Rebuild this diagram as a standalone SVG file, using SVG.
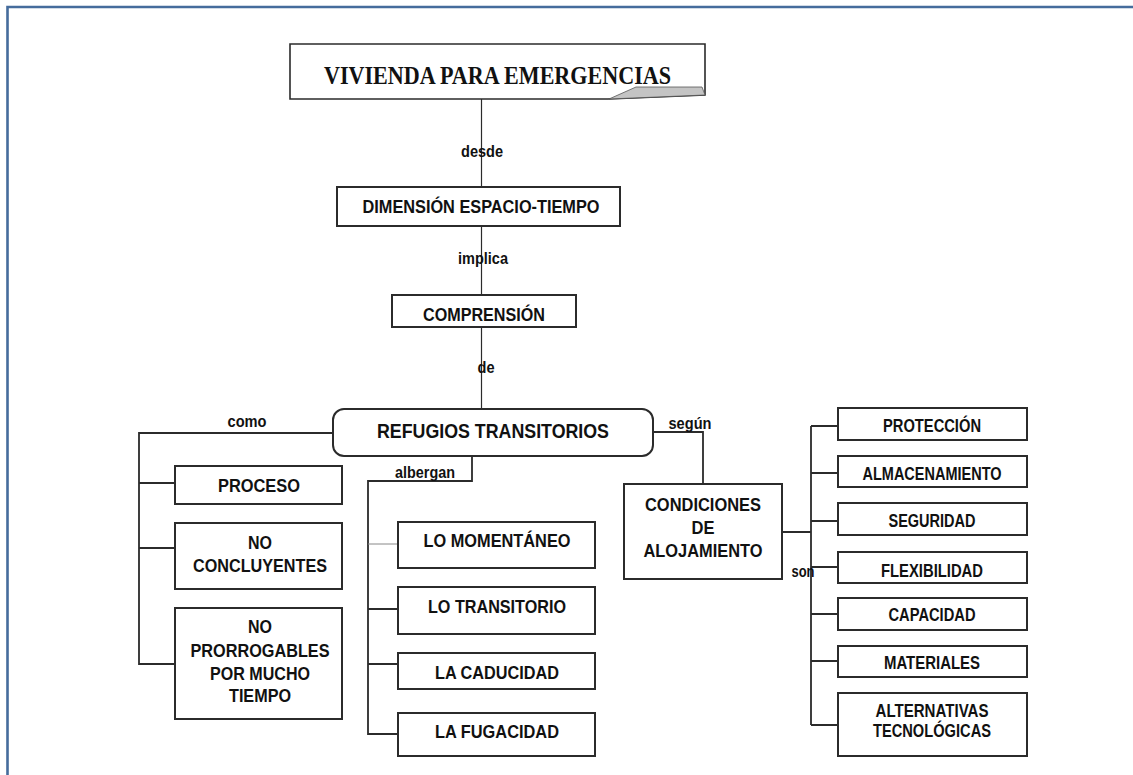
<svg xmlns="http://www.w3.org/2000/svg" width="1133" height="775" viewBox="0 0 1133 775">
<style>
.box{fill:#fff;stroke:#2b2b2b;stroke-width:2}
.t{font-family:"Liberation Sans",Arial,sans-serif;font-weight:bold;fill:#111;text-anchor:middle}
.bl{font-size:19px}
.br{font-size:18px}
.lb{font-family:"Liberation Sans",Arial,sans-serif;font-weight:bold;fill:#111;text-anchor:middle;font-size:16px}
.ln{fill:none;stroke:#2b2b2b;stroke-width:1.8}
.thin{fill:none;stroke:#2b2b2b;stroke-width:1.2}
</style>
<rect width="1133" height="775" fill="#fff"/>
<g id="frame">
<path d="M7.5,775 V7 H1133" fill="none" stroke="#456c9c" stroke-width="2.6"/>
</g>
<g id="connectors">
<path class="thin" d="M481.5,99 V187"/>
<path class="thin" d="M481.5,226 V295"/>
<path class="thin" d="M481.5,327 V409"/>
<path class="ln" d="M333,433 H139 V664 H175"/>
<path class="ln" d="M139,483 H175 M139,548 H175"/>
<path class="ln" d="M472,456 V481 H368 V734 H398"/>
<path d="M368,544 H398" fill="none" stroke="#888" stroke-width="1"/>
<path class="ln" d="M368,609 H398 M368,664 H398"/>
<path class="ln" d="M653,432 H703 V484"/>
<path class="ln" d="M782,532 H811 M811,426 V725"/>
<path class="ln" d="M811,426 H838 M811,473 H838 M811,521 H838 M811,567 H838 M811,614 H838 M811,661 H838 M811,725 H838"/>
<text class="lb" x="482" y="157" textLength="42" lengthAdjust="spacingAndGlyphs">desde</text>
<text class="lb" x="483" y="264" textLength="50" lengthAdjust="spacingAndGlyphs">implica</text>
<text class="lb" x="486" y="373" textLength="17" lengthAdjust="spacingAndGlyphs">de</text>
<text class="lb" x="247" y="427" textLength="39" lengthAdjust="spacingAndGlyphs">como</text>
<text class="lb" x="425" y="478" textLength="60" lengthAdjust="spacingAndGlyphs">albergan</text>
<text class="lb" x="690" y="429" textLength="43" lengthAdjust="spacingAndGlyphs">según</text>
<text class="lb" x="803" y="577" textLength="23" lengthAdjust="spacingAndGlyphs">son</text>
</g>
<g id="n-vivienda">
<path d="M290,44 H705 V95 L608,99 H290 Z" fill="#fff" stroke="#2b2b2b" stroke-width="1.6"/>
<polygon points="609,99 636,87 702,87 705,95" fill="#c4c4c4" stroke="#555" stroke-width="0.8"/>
<text x="497.5" y="84" font-family="'Liberation Serif','Times New Roman',serif" font-weight="bold" font-size="25" fill="#111" text-anchor="middle" textLength="347" lengthAdjust="spacingAndGlyphs">VIVIENDA PARA EMERGENCIAS</text>
</g>
<g id="n-dimension">
<rect class="box" x="337" y="187" width="283" height="39"/>
<text class="t bl" x="481" y="213" textLength="237" lengthAdjust="spacingAndGlyphs">DIMENSIÓN ESPACIO-TIEMPO</text>
</g>
<g id="n-comprension">
<rect class="box" x="392" y="295" width="184" height="32"/>
<text class="t bl" x="484" y="321" textLength="122" lengthAdjust="spacingAndGlyphs">COMPRENSIÓN</text>
</g>
<g id="n-refugios">
<rect class="box" x="333" y="409" width="320" height="47" rx="11"/>
<text class="t" font-size="21" x="493" y="438" textLength="232" lengthAdjust="spacingAndGlyphs">REFUGIOS TRANSITORIOS</text>
</g>
<g id="n-proceso">
<rect class="box" x="175" y="466" width="167" height="38"/>
<text class="t bl" x="259" y="492" textLength="82" lengthAdjust="spacingAndGlyphs">PROCESO</text>
</g>
<g id="n-noconcluyentes">
<rect class="box" x="175" y="523" width="167" height="66"/>
<text class="t bl" x="260" y="549" textLength="24" lengthAdjust="spacingAndGlyphs">NO</text>
<text class="t bl" x="260" y="572" textLength="134" lengthAdjust="spacingAndGlyphs">CONCLUYENTES</text>
</g>
<g id="n-noprorrogables">
<rect class="box" x="175" y="608" width="167" height="111"/>
<text class="t bl" x="260" y="633" textLength="24" lengthAdjust="spacingAndGlyphs">NO</text>
<text class="t bl" x="260" y="657" textLength="139" lengthAdjust="spacingAndGlyphs">PRORROGABLES</text>
<text class="t bl" x="260" y="680" textLength="100" lengthAdjust="spacingAndGlyphs">POR MUCHO</text>
<text class="t bl" x="260" y="702" textLength="62" lengthAdjust="spacingAndGlyphs">TIEMPO</text>
</g>
<g id="n-momentaneo">
<rect class="box" x="398" y="522" width="197" height="46"/>
<text class="t bl" x="497" y="547" textLength="147" lengthAdjust="spacingAndGlyphs">LO MOMENTÁNEO</text>
</g>
<g id="n-transitorio">
<rect class="box" x="398" y="587" width="197" height="47"/>
<text class="t bl" x="497" y="613" textLength="138" lengthAdjust="spacingAndGlyphs">LO TRANSITORIO</text>
</g>
<g id="n-caducidad">
<rect class="box" x="398" y="653" width="197" height="36"/>
<text class="t bl" x="497" y="679" textLength="124" lengthAdjust="spacingAndGlyphs">LA CADUCIDAD</text>
</g>
<g id="n-fugacidad">
<rect class="box" x="398" y="713" width="197" height="43"/>
<text class="t bl" x="497" y="738" textLength="124" lengthAdjust="spacingAndGlyphs">LA FUGACIDAD</text>
</g>
<g id="n-condiciones">
<rect class="box" x="624" y="484" width="158" height="95"/>
<text class="t bl" x="703" y="511" textLength="116" lengthAdjust="spacingAndGlyphs">CONDICIONES</text>
<text class="t bl" x="703" y="534" textLength="23" lengthAdjust="spacingAndGlyphs">DE</text>
<text class="t bl" x="703" y="557" textLength="119" lengthAdjust="spacingAndGlyphs">ALOJAMIENTO</text>
</g>
<g id="n-proteccion">
<rect class="box" x="838" y="408" width="189" height="32"/>
<text class="t br" x="932" y="432" textLength="98" lengthAdjust="spacingAndGlyphs">PROTECCIÓN</text>
</g>
<g id="n-almacenamiento">
<rect class="box" x="838" y="456" width="189" height="31"/>
<text class="t br" x="932" y="480" textLength="139" lengthAdjust="spacingAndGlyphs">ALMACENAMIENTO</text>
</g>
<g id="n-seguridad">
<rect class="box" x="838" y="503" width="189" height="32"/>
<text class="t br" x="932" y="527" textLength="87" lengthAdjust="spacingAndGlyphs">SEGURIDAD</text>
</g>
<g id="n-flexibilidad">
<rect class="box" x="838" y="552" width="189" height="31"/>
<text class="t br" x="932" y="577" textLength="102" lengthAdjust="spacingAndGlyphs">FLEXIBILIDAD</text>
</g>
<g id="n-capacidad">
<rect class="box" x="838" y="598" width="189" height="32"/>
<text class="t br" x="932" y="621" textLength="87" lengthAdjust="spacingAndGlyphs">CAPACIDAD</text>
</g>
<g id="n-materiales">
<rect class="box" x="838" y="646" width="189" height="31"/>
<text class="t br" x="932" y="669" textLength="96" lengthAdjust="spacingAndGlyphs">MATERIALES</text>
</g>
<g id="n-alternativas">
<rect class="box" x="838" y="693" width="189" height="63"/>
<text class="t br" x="932" y="717" textLength="113" lengthAdjust="spacingAndGlyphs">ALTERNATIVAS</text>
<text class="t br" x="932" y="737" textLength="118" lengthAdjust="spacingAndGlyphs">TECNOLÓGICAS</text>
</g>
</svg>
